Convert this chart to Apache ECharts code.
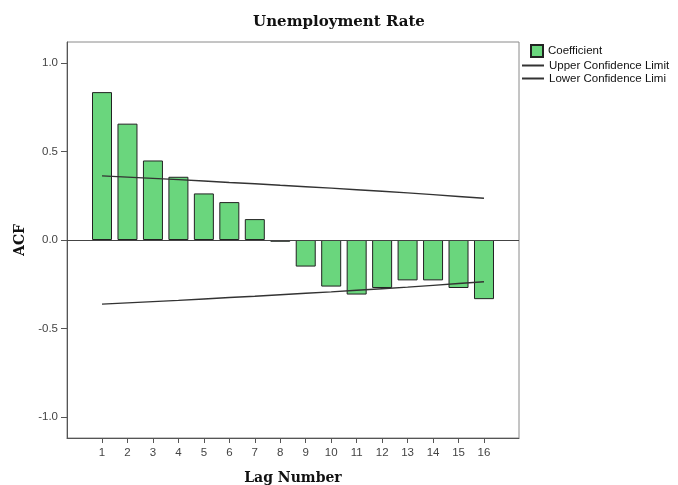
<!DOCTYPE html>
<html>
<head>
<meta charset="utf-8">
<script src="https://cdn.jsdelivr.net/npm/echarts@6/dist/echarts.min.js"></script>
<style>
  html, body { margin: 0; padding: 0; background: #fff; }
  #chart { width: 678px; height: 485px; }
</style>
</head>
<body>
<div id="chart"></div>
<script>
// Autocorrelation of the unemployment rate, lags 1-16
const lags = [1, 2, 3, 4, 5, 6, 7, 8, 9, 10, 11, 12, 13, 14, 15, 16];
const coefficient = [0.835, 0.657, 0.449, 0.357, 0.263, 0.214, 0.118, -0.010,
                     -0.150, -0.263, -0.308, -0.271, -0.228, -0.228, -0.271, -0.334];
const upperLimit = [0.362, 0.355, 0.348, 0.341, 0.333, 0.325, 0.318, 0.309,
                    0.301, 0.293, 0.284, 0.275, 0.266, 0.256, 0.246, 0.236];
const lowerLimit = [-0.362, -0.355, -0.348, -0.341, -0.333, -0.325, -0.318, -0.309,
                    -0.301, -0.293, -0.284, -0.275, -0.266, -0.256, -0.246, -0.236];
const yTicks = [-1.0, -0.5, 0.0, 0.5, 1.0];

const serif = '"DejaVu Serif", "Liberation Serif", serif';
const sans = '"Liberation Sans", Arial, sans-serif';

const pair = (vals) => lags.map((l, i) => [l, vals[i]]);

const chart = echarts.init(document.getElementById('chart'), null, { renderer: 'canvas' });
chart.setOption({
  animation: false,
  backgroundColor: '#ffffff',
  title: {
    text: 'Unemployment Rate',
    left: 'center',
    top: 10,
    textStyle: { fontFamily: serif, fontSize: 15, fontWeight: 'bold', color: '#111' }
  },
  legend: [
    {
      data: ['Coefficient'],
      orient: 'vertical',
      left: 530, top: 44,
      padding: 0,
      itemWidth: 12, itemHeight: 12,
      icon: 'rect',
      textStyle: { fontFamily: sans, fontSize: 11.5, color: '#111' }
    },
    {
      data: ['Upper Confidence Limit', 'Lower Confidence Limi'],
      orient: 'vertical',
      left: 522, top: 59,
      padding: 0,
      itemWidth: 22, itemHeight: 2,
      itemGap: 0,
      icon: 'rect',
      textStyle: { fontFamily: sans, fontSize: 11.5, color: '#111', lineHeight: 13 }
    }
  ],
  grid: {
    left: 67, right: 159, top: 42, bottom: 47,
    containLabel: false,
    outerBoundsMode: 'none',
    show: true, borderColor: '#8a8a8a', borderWidth: 1,
    backgroundColor: '#ffffff'
  },
  xAxis: {
    type: 'value',
    min: -0.375, max: 17.375,
    name: 'Lag Number',
    nameLocation: 'middle',
    nameGap: 33,
    nameTextStyle: { fontFamily: serif, fontSize: 14, fontWeight: 'bold', color: '#111' },
    axisLine: { show: true, onZero: false, lineStyle: { color: '#555', width: 1 } },
    axisTick: { show: true, length: 5, customValues: lags, lineStyle: { color: '#555' } },
    axisLabel: {
      customValues: lags,
      fontFamily: sans, fontSize: 11.5, color: '#444', margin: 9
    },
    splitLine: { show: false }
  },
  yAxis: {
    type: 'value',
    min: -1.118, max: 1.118,
    name: 'ACF',
    nameLocation: 'middle',
    nameGap: 40,
    nameRotate: 90,
    nameTextStyle: { fontFamily: serif, fontSize: 14, fontWeight: 'bold', color: '#111' },
    axisLine: { show: true, onZero: false, lineStyle: { color: '#555', width: 1 } },
    axisTick: { show: true, length: 6, customValues: yTicks, lineStyle: { color: '#555' } },
    axisLabel: {
      customValues: yTicks,
      formatter: (v) => v.toFixed(1),
      fontFamily: sans, fontSize: 11.5, color: '#444', margin: 9
    },
    splitLine: { show: false }
  },
  series: [
    {
      name: 'Coefficient',
      type: 'bar',
      barWidth: 20,
      data: pair(coefficient),
      itemStyle: { color: '#6ad67d', borderColor: '#222', borderWidth: 1 },
      markLine: {
        silent: true,
        symbol: 'none',
        label: { show: false },
        lineStyle: { color: '#444', width: 1, type: 'solid' },
        data: [{ yAxis: 0 }]
      },
      z: 2
    },
    {
      name: 'Upper Confidence Limit',
      type: 'line',
      data: pair(upperLimit),
      symbol: 'none',
      lineStyle: { color: '#333', width: 1.4 },
      itemStyle: { color: '#333' },
      z: 3
    },
    {
      name: 'Lower Confidence Limi',
      type: 'line',
      data: pair(lowerLimit),
      symbol: 'none',
      lineStyle: { color: '#333', width: 1.4 },
      itemStyle: { color: '#333' },
      z: 3
    }
  ]
});
</script>
</body>
</html>
